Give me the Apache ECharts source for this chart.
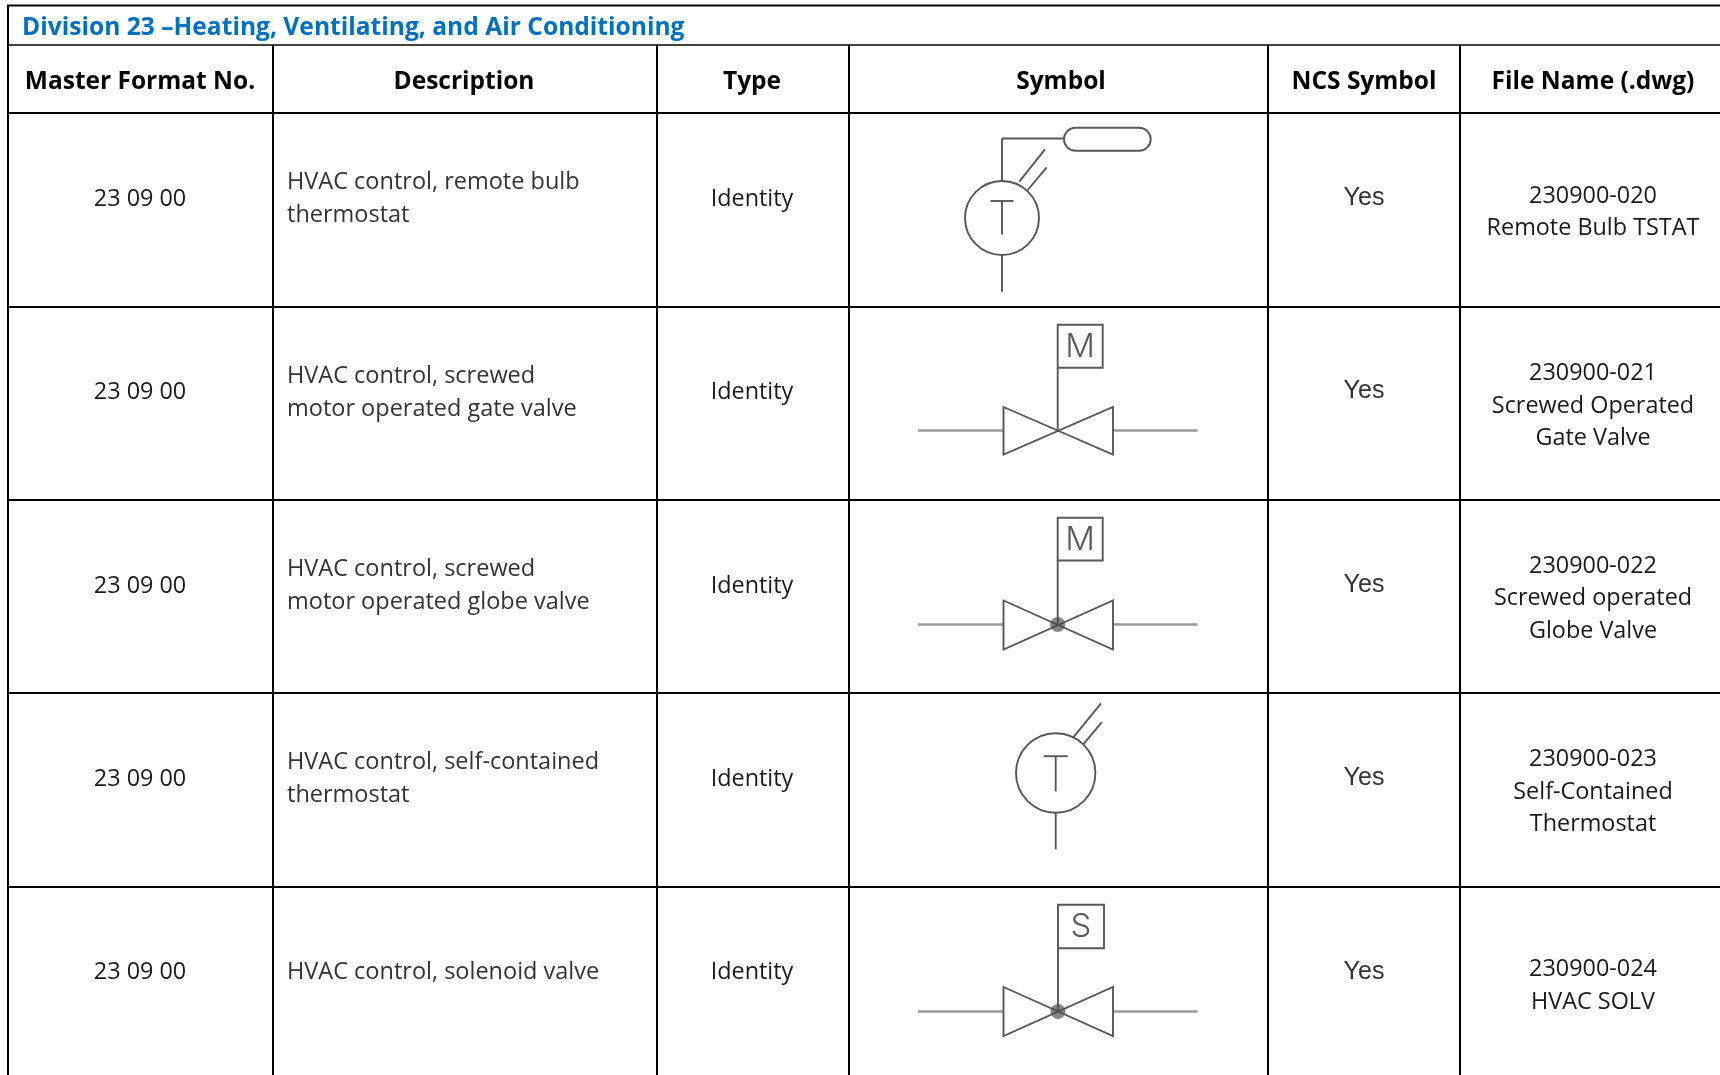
<!DOCTYPE html>
<html>
<head>
<meta charset="utf-8">
<style>html,body{margin:0;padding:0;background:#fff}#c{width:1720px;height:1075px}</style>
<script src="https://cdn.jsdelivr.net/npm/echarts@6/dist/echarts.min.js"></script>
</head>
<body>
<div id="c"></div>
<script>
// ---- content ----
const divisionTitle = 'Division 23 –Heating, Ventilating, and Air Conditioning';
const headers = ['Master Format No.', 'Description', 'Type', 'Symbol', 'NCS Symbol', 'File Name (.dwg)'];
const masterFormat = ['23 09 00', '23 09 00', '23 09 00', '23 09 00', '23 09 00'];
const descriptions = [
  'HVAC control, remote bulb\nthermostat',
  'HVAC control, screwed\nmotor operated gate valve',
  'HVAC control, screwed\nmotor operated globe valve',
  'HVAC control, self-contained\nthermostat',
  'HVAC control, solenoid valve'
];
const types = ['Identity', 'Identity', 'Identity', 'Identity', 'Identity'];
const ncsSymbol = ['Yes', 'Yes', 'Yes', 'Yes', 'Yes'];
const fileNames = [
  '230900-020\nRemote Bulb TSTAT',
  '230900-021\nScrewed Operated\nGate Valve',
  '230900-022\nScrewed operated\nGlobe Valve',
  '230900-023\nSelf-Contained\nThermostat',
  '230900-024\nHVAC SOLV'
];

// ---- layout (page pixels, mapped through the hidden axes) ----
const colEdges = [8, 273, 657, 849, 1268, 1460, 1720];
const rowEdges = [5.5, 45, 113, 307, 500, 693, 887, 1075];
const colCentres = [140, 464, 752, 1061, 1364, 1593];
const descLeft = 287;
const bodyY = { master: [199, 392.5, 586, 779.5, 972.5], desc: [198.5, 392.5, 586, 779, 972.5],
                ncs: [198, 391.5, 585.5, 778.5, 972.5], file: [212.5, 406, 598.5, 792, 986] };

const BODY_FONT = '"Open Sans", "Noto Sans", sans-serif';
const INK = '#1a1a1a', SYM = '#585858';

// Symbol shapes, relative to page pixels
function valve(cx, cy, top, bottom, boxL, boxR, boxT, boxB, letter, dot) {
  const L = 1003.5, R = 1113;
  const out = [
    ['line', 918, cy, L, cy, 2.6, '#9a9a9a'], ['line', R, cy, 1197.5, cy, 2.6, '#9a9a9a'],
    ['poly', [[L, top], [R, bottom], [R, top], [L, bottom]]],
    ['line', cx, boxB, cx, cy],
    ['rect', boxL, boxT, boxR - boxL, boxB - boxT],
    ['letter', (boxL + boxR) / 2, (boxT + boxB) / 2 + 1, letter]
  ];
  if (dot) out.push(['dot', cx, cy, 7.5]);
  return out;
}
function thermostat(cx, cy, r, barHalf, barY, stemEnd, bottomEnd, d1, d2) {
  return [
    ['circle', cx, cy, r],
    ['line', cx - barHalf, barY, cx + barHalf, barY],
    ['line', cx, barY, cx, stemEnd],
    ['line', cx, cy + r, cx, bottomEnd],
    ['line', d1[0], d1[1], d1[2], d1[3]],
    ['line', d2[0], d2[1], d2[2], d2[3]]
  ];
}
const symbolShapes = [
  thermostat(1002, 218, 37, 11.5, 201, 234.5, 291.7, [1019.3, 181.7, 1045, 149.3], [1027.7, 190, 1046.7, 167.3])
    .concat([['line', 1002, 181, 1002, 138.5], ['line', 1002, 138.5, 1064, 138.5], ['round', 1064, 127.7, 86.7, 23, 11.5]]),
  valve(1057.7, 430.5, 407, 454.5, 1057.7, 1102.7, 324.8, 367.8, 'M', false),
  valve(1057.7, 624.5, 600.5, 649.5, 1057.7, 1102.7, 517.8, 560.5, 'M', true),
  thermostat(1055.7, 773, 39.7, 12, 756.2, 791.5, 849.3, [1073.3, 737.3, 1101, 703.3], [1083.3, 744.3, 1101.7, 722.3]),
  valve(1058, 1011.5, 987, 1036, 1058, 1104, 904.8, 948.2, 'S', true)
];

// ---- data for the custom series ----
const ruleData = [];
rowEdges.slice(0, -1).forEach((y, i) => ruleData.push(['h', y, i === 1 ? 1.6 : 2.2]));
colEdges.slice(1, -1).forEach(x => ruleData.push(['v', x]));

const textData = [];
textData.push([22, 27.5, divisionTitle, 'title']);
headers.forEach((h, i) => textData.push([colCentres[i], 82.5, h, 'head']));
masterFormat.forEach((t, i) => textData.push([colCentres[0], bodyY.master[i], t, 'body']));
descriptions.forEach((t, i) => textData.push([descLeft, bodyY.desc[i], t, 'desc']));
types.forEach((t, i) => textData.push([colCentres[2], bodyY.master[i], t, 'body']));
ncsSymbol.forEach((t, i) => textData.push([colCentres[4], bodyY.ncs[i], t, 'yes']));
fileNames.forEach((t, i) => textData.push([colCentres[5], bodyY.file[i], t, 'body']));

const textStyles = {
  title: { fontFamily: BODY_FONT, fontSize: 24.6, fontWeight: 700, fill: '#0070c0', align: 'left' },
  head: { fontFamily: BODY_FONT, fontSize: 24.5, fontWeight: 700, fill: '#050505', align: 'center' },
  body: { fontFamily: BODY_FONT, fontSize: 23.4, fill: INK, lineHeight: 32.5, align: 'center' },
  desc: { fontFamily: BODY_FONT, fontSize: 23.5, fill: '#333', lineHeight: 33, align: 'left' },
  yes: { fontFamily: '"Liberation Sans", Arial, sans-serif', fontSize: 25, fill: '#333', align: 'center' }
};

function symbolChildren(shapes, api) {
  const P = (x, y) => api.coord([x, y]);
  const stroke = { stroke: SYM, lineWidth: 1.9, fill: 'none' };
  return shapes.map(s => {
    const k = s[0];
    if (k === 'line') {
      const a = P(s[1], s[2]), b = P(s[3], s[4]);
      return { type: 'line', shape: { x1: a[0], y1: a[1], x2: b[0], y2: b[1] },
               style: { stroke: s[6] || SYM, lineWidth: s[5] || 1.9 } };
    }
    if (k === 'poly') return { type: 'polygon', shape: { points: s[1].map(p => P(p[0], p[1])) }, style: stroke };
    if (k === 'rect' || k === 'round') {
      const a = P(s[1], s[2]);
      return { type: 'rect', shape: { x: a[0], y: a[1], width: s[3], height: s[4], r: s[5] || 0 }, style: stroke };
    }
    if (k === 'circle') {
      const a = P(s[1], s[2]);
      return { type: 'circle', shape: { cx: a[0], cy: a[1], r: s[3] }, style: stroke };
    }
    if (k === 'dot') {
      const a = P(s[1], s[2]);
      return { type: 'circle', shape: { cx: a[0], cy: a[1], r: s[3] }, style: { fill: 'rgba(70,70,70,0.65)' } };
    }
    const a = P(s[1], s[2]);
    return { type: 'text', style: { x: a[0], y: a[1], text: s[3], fontFamily: 'Inter, Roboto, sans-serif', fontWeight: 300,
             fontSize: 33, fill: '#5a5a5a', align: 'center', verticalAlign: 'middle' } };
  });
}

const chart = echarts.init(document.getElementById('c'), null, { renderer: 'canvas' });
chart.setOption({
  animation: false,
  backgroundColor: '#ffffff',
  grid: { left: 0, right: 0, top: 0, bottom: 0 },
  xAxis: { type: 'value', min: 0, max: 1720, show: false },
  yAxis: { type: 'value', min: 0, max: 1075, inverse: true, show: false },
  series: [
    { // table rules
      type: 'custom', coordinateSystem: 'cartesian2d', clip: false, silent: true,
      data: ruleData.map((r, i) => [i]),
      encode: { x: 0 },
      renderItem(params, api) {
        const r = ruleData[params.dataIndex];
        if (r[0] === 'h') {
          const a = api.coord([colEdges[0] - 1, r[1]]), b = api.coord([1720, r[1]]);
          return { type: 'line', shape: { x1: a[0], y1: a[1], x2: b[0], y2: b[1] }, style: { stroke: '#000', lineWidth: r[2] } };
        }
        const a = api.coord([r[1], rowEdges[1]]), b = api.coord([r[1], 1075]);
        return { type: 'line', shape: { x1: a[0], y1: a[1], x2: b[0], y2: b[1] }, style: { stroke: '#000', lineWidth: 2 } };
      }
    },
    { // left border
      type: 'custom', coordinateSystem: 'cartesian2d', clip: false, silent: true,
      data: [[0]], encode: { x: 0 },
      renderItem(params, api) {
        const a = api.coord([colEdges[0], rowEdges[0]]), b = api.coord([colEdges[0], 1075]);
        return { type: 'line', shape: { x1: a[0], y1: a[1], x2: b[0], y2: b[1] }, style: { stroke: '#000', lineWidth: 2 } };
      }
    },
    { // drawn symbols
      type: 'custom', coordinateSystem: 'cartesian2d', clip: false, silent: true,
      data: symbolShapes.map((s, i) => [i]), encode: { x: 0 },
      renderItem(params, api) {
        return { type: 'group', children: symbolChildren(symbolShapes[params.dataIndex], api) };
      }
    },
    { // all text
      type: 'custom', coordinateSystem: 'cartesian2d', clip: false, silent: true,
      data: textData.map(t => [t[0], t[1]]), encode: { x: 0, y: 1 },
      renderItem(params, api) {
        const t = textData[params.dataIndex];
        const p = api.coord([t[0], t[1]]);
        const st = textStyles[t[3]];
        return { type: 'text', style: Object.assign({ x: p[0], y: p[1], text: t[2], verticalAlign: 'middle' }, st) };
      }
    }
  ]
});
</script>
</body>
</html>
